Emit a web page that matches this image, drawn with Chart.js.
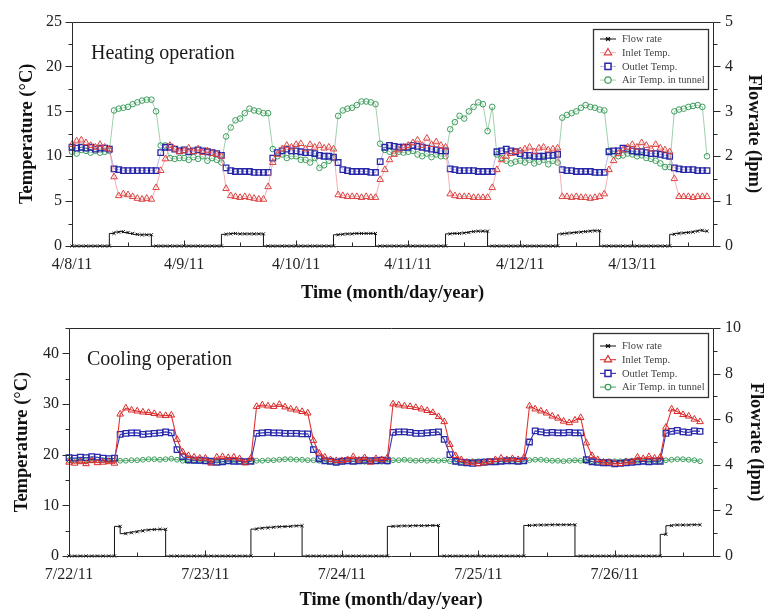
<!DOCTYPE html>
<html><head><meta charset="utf-8">
<script src="https://cdn.jsdelivr.net/npm/chart.js@4/dist/chart.umd.min.js"></script>
<style>
html,body{margin:0;padding:0;background:#fff;}
#wrap{position:relative;width:764px;height:612px;overflow:hidden;}
canvas{position:absolute;left:0;}
#c1{top:0;} #c2{top:306px;}
</style></head><body>
<div id="wrap"><canvas id="c1" width="764" height="306" style="width:764px;height:306px"></canvas><canvas id="c2" width="764" height="306" style="width:764px;height:306px"></canvas></div>
<script>
// ---------- tick labels / names ----------
const heatDates = ['4/8/11','4/9/11','4/10/11','4/11/11','4/12/11','4/13/11'];
const coolDates = ['7/22/11','7/23/11','7/24/11','7/25/11','7/26/11'];
const seriesNames = ['Flow rate','Inlet Temp.','Outlet Temp.','Air Temp. in tunnel'];
const SAMPLES_PER_DAY = 24; // hourly readings

// ---------- Heating operation (hourly from 4/8/11 0:00) ----------
const heatFlow = [ // lpm
  0,0,0,0,0,0,0,0,0, 0.28,0.31,0.32,0.30,0.28,0.26,0.25,0.25,0.25, 0,0,0,0,0,0,
  0,0,0,0,0,0,0,0,0, 0.26,0.27,0.28,0.27,0.27,0.27,0.27,0.27,0.27, 0,0,0,0,0,0,
  0,0,0,0,0,0,0,0,0, 0.25,0.26,0.27,0.27,0.28,0.28,0.28,0.28,0.28, 0,0,0,0,0,0,
  0,0,0,0,0,0,0,0,0, 0.27,0.28,0.28,0.29,0.30,0.32,0.33,0.33,0.33, 0,0,0,0,0,0,
  0,0,0,0,0,0,0,0,0, 0.27,0.28,0.29,0.30,0.31,0.32,0.33,0.34,0.34, 0,0,0,0,0,0,
  0,0,0,0,0,0,0,0,0, 0.26,0.28,0.29,0.30,0.31,0.33,0.35,0.33
];
const heatInlet = [ // °C
  11.3,11.7,11.8,11.5,11.2,11.0,11.3,11.0,10.8, 7.7,5.6,5.8,5.7,5.5,5.3,5.2,5.3,5.2,6.5, 8.4,9.7,11.2,10.8,10.5,
  10.6,10.9,10.5,10.8,10.4,10.6,10.3,10.2,10.0, 6.4,5.6,5.5,5.4,5.5,5.4,5.3,5.2,5.2,6.6, 9.3,10.2,10.8,11.2,11.0,
  11.3,11.4,10.8,11.3,11.0,11.2,10.9,11.0,10.8, 5.7,5.6,5.5,5.5,5.5,5.4,5.5,5.4,5.4,7.4, 8.5,9.6,10.2,10.7,11.0,
  11.2,11.5,11.8,11.2,12.0,11.3,11.6,11.2,11.0, 5.8,5.6,5.5,5.5,5.5,5.4,5.4,5.4,5.4,6.5, 8.5,9.6,10.0,10.3,10.5,
  10.6,10.8,11.0,10.5,10.9,11.0,10.7,10.8,10.9, 5.5,5.5,5.4,5.5,5.4,5.4,5.3,5.4,5.5,5.8, 8.5,9.5,10.3,10.7,11.0,
  11.3,11.0,11.5,11.2,10.8,11.3,10.9,10.7,10.5, 7.5,5.5,5.5,5.5,5.4,5.5,5.5,5.5
];
const heatOutlet = [
  11.0,10.9,11.0,10.9,11.0,10.8,10.9,10.9,10.8, 8.6,8.5,8.4,8.4,8.4,8.4,8.4,8.4,8.4,8.4, 10.4,11.0,11.0,10.8,10.6,
  10.7,10.5,10.6,10.7,10.6,10.5,10.4,10.3,10.1, 8.7,8.4,8.3,8.3,8.3,8.3,8.2,8.2,8.2,8.2, 9.8,10.4,10.6,10.8,10.6,
  10.6,10.5,10.4,10.4,10.3,10.1,10.0,10.0,9.9, 9.3,8.5,8.4,8.3,8.3,8.3,8.3,8.2,8.2,9.4, 11.0,11.2,11.1,11.0,11.0,
  11.0,11.2,11.1,11.0,10.9,10.8,10.7,10.6,10.6, 8.6,8.5,8.4,8.4,8.4,8.4,8.3,8.3,8.3,8.3, 10.5,10.6,10.8,10.6,10.5,
  10.3,10.1,10.1,10.0,10.0,10.0,10.1,10.1,10.2, 8.5,8.4,8.4,8.3,8.3,8.3,8.3,8.2,8.2,8.2, 10.5,10.6,10.6,10.9,10.8,
  10.6,10.5,10.5,10.4,10.3,10.3,10.2,10.1,10.0, 8.7,8.6,8.5,8.5,8.5,8.4,8.4,8.4
];
const heatAir = [
  10.5,10.3,10.7,10.6,10.4,10.6,10.4,10.5,10.6, 15.1,15.3,15.4,15.5,15.8,16.0,16.2,16.3,16.3,15.0, 11.2,11.2,9.8,9.7,9.8,
  9.8,9.6,9.9,9.7,10.0,9.5,9.8,9.6,9.3, 12.2,13.2,14.0,14.2,14.8,15.3,15.1,15.0,14.8,14.8, 10.8,10.0,10.2,9.8,10.0,
  10.0,9.6,9.6,9.3,9.8,8.7,9.0,9.5,9.8, 14.5,15.1,15.3,15.4,15.7,16.1,16.1,16.0,15.8,11.4, 10.7,10.5,10.3,10.5,10.4,
  10.5,10.6,10.2,10.0,10.3,9.9,10.2,10.0,10.0, 13.0,13.8,14.5,14.2,15.0,15.5,16.0,15.8,12.8,15.5, 10.2,9.8,9.5,9.2,9.4,
  9.5,9.3,9.6,9.2,9.4,9.6,9.1,9.5,9.3, 14.3,14.6,14.8,15.0,15.4,15.7,15.5,15.4,15.2,15.1, 10.6,10.2,10.0,10.1,10.3,
  10.2,10.0,10.1,9.8,9.7,9.5,9.2,8.8,8.8, 15.0,15.2,15.3,15.5,15.6,15.7,15.5,10.0
];

// ---------- Cooling operation (hourly from 7/22/11 0:00) ----------
const coolFlow = [ // lpm
  0,0,0,0,0,0,0,0,0, 1.30,0.98,1.02,1.06,1.10,1.14,1.16,1.17,1.17, 0,0,0,0,0,0,
  0,0,0,0,0,0,0,0,0, 1.18,1.22,1.24,1.26,1.28,1.29,1.30,1.32,1.33, 0,0,0,0,0,0,
  0,0,0,0,0,0,0,0,0, 1.30,1.31,1.32,1.32,1.33,1.33,1.33,1.34,1.34, 0,0,0,0,0,0,
  0,0,0,0,0,0,0,0,0, 1.34,1.35,1.36,1.36,1.37,1.37,1.37,1.37,1.37, 0,0,0,0,0,0,
  0,0,0,0,0,0,0,0,0, 0.95,1.33,1.36,1.36,1.36,1.37,1.37
];
const coolInlet = [ // °C
  18.5,18.3,18.6,18.2,18.8,18.4,18.5,18.6,18.3, 28.0,29.2,28.8,28.6,28.4,28.3,28.1,27.8,27.7,27.8, 23.0,20.5,19.8,19.5,19.3,
  19.3,18.3,19.5,19.6,19.4,19.5,19.2,18.4,19.3, 29.5,29.8,29.6,29.5,29.9,29.4,29.0,28.8,28.5,28.2, 22.8,20.3,19.5,19.0,18.8,
  18.8,19.0,19.6,18.9,19.4,18.5,19.2,19.0,19.4, 30.0,29.8,29.6,29.5,29.3,29.0,28.7,28.3,27.5,26.5, 22.0,19.8,19.0,18.5,18.4,
  18.2,18.4,18.6,19.0,19.3,19.0,19.2,19.0,19.4, 29.6,29.0,28.6,28.2,27.6,27.2,26.6,26.3,26.8,27.3, 22.3,19.8,19.0,18.5,18.4,
  18.3,18.2,18.5,18.6,19.5,19.2,19.6,19.3,19.5, 25.4,29.0,28.5,27.9,27.6,27.0,26.5
];
const coolOutlet = [
  19.4,19.3,19.5,19.4,19.6,19.5,19.3,19.2,19.3, 24.0,24.2,24.3,24.3,24.0,24.1,24.2,24.3,24.5,24.3, 21.0,19.6,19.0,18.9,18.9,
  18.8,18.7,18.5,18.6,18.8,18.7,18.7,18.6,18.7, 24.2,24.3,24.4,24.3,24.3,24.2,24.2,24.2,24.1,24.1, 21.0,19.2,18.8,18.7,18.5,
  18.7,18.8,18.7,18.8,18.9,18.8,18.8,18.9,18.8, 24.4,24.5,24.5,24.4,24.2,24.2,24.3,24.4,24.5,23.0, 20.0,18.7,18.5,18.4,18.3,
  18.4,18.5,18.6,18.6,18.7,18.8,18.8,18.7,18.8, 22.5,24.7,24.5,24.3,24.4,24.3,24.3,24.4,24.3,24.3, 19.0,18.6,18.5,18.4,18.4,
  18.2,18.3,18.4,18.5,18.6,18.7,18.6,18.7,18.7, 24.2,24.6,24.8,24.5,24.4,24.7,24.6
];
const coolAir = [
  18.9,18.9,18.8,18.9,18.9,19.0,18.9,18.9,18.8, 18.8,18.8,18.9,18.9,19.0,19.1,19.1,19.0,19.1,19.2, 19.0,18.8,18.7,18.8,18.7,
  18.7,18.7,18.8,18.7,18.7,18.8,18.7,18.6,18.7, 18.8,18.8,18.9,18.9,19.0,19.1,19.1,19.0,19.0,18.9, 18.9,18.8,18.7,18.6,18.6,
  18.6,18.7,18.7,18.7,18.6,18.7,18.7,18.6,18.6, 18.9,18.9,19.0,18.9,18.8,18.9,18.8,18.9,18.8,18.9, 18.7,18.6,18.6,18.6,18.7,
  18.7,18.7,18.6,18.6,18.7,18.7,18.7,18.6,18.7, 18.9,19.0,19.0,18.9,18.8,18.8,18.7,18.8,18.9,18.8, 18.7,18.7,18.6,18.6,18.7,
  18.7,18.7,18.8,18.8,18.8,18.7,18.8,18.8,18.8, 18.9,19.0,19.1,19.1,19.0,18.9,18.7
];

// ---------- rendering ----------
const SERIF = '"Liberation Serif","Times New Roman","DejaVu Serif",serif';
Chart.defaults.font.family = SERIF;
Chart.defaults.color = '#222';

const toPts = arr => arr.map((v, i) => ({ x: i / SAMPLES_PER_DAY, y: v }));

function mark(ctx, style, r, x, y, color, lw) {
  ctx.save();
  ctx.strokeStyle = color; ctx.lineWidth = lw; ctx.fillStyle = '#fff';
  ctx.beginPath();
  if (style === 'triangle') {
    ctx.moveTo(x, y - r); ctx.lineTo(x + r * 0.866, y + r * 0.5); ctx.lineTo(x - r * 0.866, y + r * 0.5); ctx.closePath();
    ctx.fill(); ctx.stroke();
  } else if (style === 'rect') {
    const s = r * Math.SQRT1_2; ctx.rect(x - s, y - s, 2 * s, 2 * s); ctx.fill(); ctx.stroke();
  } else if (style === 'circle') {
    ctx.arc(x, y, r, 0, Math.PI * 2); ctx.fill(); ctx.stroke();
  } else {
    const s = r * Math.SQRT1_2;
    ctx.moveTo(x - s, y - s); ctx.lineTo(x + s, y + s); ctx.moveTo(x + s, y - s); ctx.lineTo(x - s, y + s);
    ctx.moveTo(x - r, y); ctx.lineTo(x + r, y); ctx.stroke();
  }
  ctx.restore();
}

const decor = {
  id: 'decor',
  afterDatasetsDraw(chart, args, o) {
    const { ctx, chartArea: a, scales: { x, y, y1 } } = chart;
    ctx.save();
    ctx.strokeStyle = '#2a2a2a'; ctx.lineWidth = 1;
    const L0 = Math.round(a.left) + 0.5, T0 = Math.round(a.top) + 0.5, R0 = Math.round(a.right) + 0.5, B0 = Math.round(a.bottom) + 0.5;
    ctx.beginPath(); ctx.rect(L0, T0, R0 - L0, B0 - T0); ctx.stroke();
    ctx.beginPath();
    const eps = 1e-6;
    for (let v = 0; v <= x.max + eps; v += o.xMinor) {
      const px = Math.round(x.getPixelForValue(v)) + 0.5;
      const major = Math.abs(v - Math.round(v)) < eps;
      ctx.moveTo(px, B0); ctx.lineTo(px, B0 - (major ? 6 : 4));
    }
    for (let v = 0; v <= y.max + eps; v += o.yMinor) {
      const py = Math.round(y.getPixelForValue(v)) + 0.5;
      const major = Math.abs(v / o.yMajor - Math.round(v / o.yMajor)) < eps;
      ctx.moveTo(L0, py); ctx.lineTo(L0 - (major ? 7 : 4), py);
    }
    for (let v = 0; v <= y1.max + eps; v += o.y1Minor) {
      const py = Math.round(y1.getPixelForValue(v)) + 0.5;
      const major = Math.abs(v / o.y1Major - Math.round(v / o.y1Major)) < eps;
      ctx.moveTo(R0, py); ctx.lineTo(R0 + (major ? 7 : 4), py);
    }
    ctx.stroke();
    // heading
    ctx.fillStyle = '#1a1a1a'; ctx.font = '20px ' + SERIF; ctx.textAlign = 'left'; ctx.textBaseline = 'alphabetic';
    ctx.fillText(o.heading, a.left + o.headDx, a.top + o.headDy);
    // legend
    const G = o.legend;
    const bx = Math.round(a.right - G.right - G.w), by = Math.round(a.top + G.top);
    ctx.fillStyle = '#fff'; ctx.fillRect(bx, by, G.w, G.h);
    ctx.strokeStyle = '#333'; ctx.lineWidth = 1.3; ctx.strokeRect(bx + 0.5, by + 0.5, G.w, G.h);
    chart.data.datasets.forEach((ds, i) => {
      const cy = by + G.first + i * G.gap, cx = bx + G.markX;
      ctx.strokeStyle = ds.borderColor; ctx.lineWidth = Math.max(ds.borderWidth, 0.8);
      ctx.beginPath(); ctx.moveTo(cx - 8, cy); ctx.lineTo(cx + 8, cy); ctx.stroke();
      mark(ctx, ds.pointStyle, ds.pointRadius + 0.4, cx, cy, ds.pointBorderColor, ds.pointBorderWidth + 0.2);
      ctx.fillStyle = '#444'; ctx.font = '10.5px ' + SERIF; ctx.textBaseline = 'middle'; ctx.textAlign = 'left';
      ctx.fillText(ds.label, cx + 14, cy + 0.5);
    });
    ctx.restore();
  }
};

function makeChart(id, c) {
  const ds = (label, data, style, r, color, line, bw, pbw, axis, stepped) => ({
    label, data: toPts(data), yAxisID: axis, pointStyle: style, pointRadius: r,
    pointBorderColor: color, pointBackgroundColor: 'rgba(255,255,255,0)', pointBorderWidth: pbw,
    borderColor: line, borderWidth: bw, tension: 0, stepped: stepped || false, clip: false, fill: false
  });
  const titleFont = { size: 18.5, weight: 'bold' };
  return new Chart(document.getElementById(id), {
    type: 'line',
    data: { datasets: [
      ds(seriesNames[0], c.flow, 'crossRot', 2.2, '#111', '#111', 1, 1, 'y1', 'after'),
      ds(seriesNames[1], c.inlet, 'triangle', 3.8, c.red, c.redLine, c.bw, 1, 'y'),
      ds(seriesNames[2], c.outlet, 'rect', 3.9, c.blue, c.blueLine, c.bw, 1.3, 'y'),
      ds(seriesNames[3], c.air, 'circle', c.airR, c.green, c.greenLine, c.bw, 1, 'y')
    ] },
    options: {
      responsive: false, animation: false, devicePixelRatio: 1,
      layout: { padding: { top: c.top, left: 0, right: 0, bottom: 0 } },
      plugins: { legend: { display: false }, tooltip: { enabled: false }, decor: c.decor },
      scales: {
        x: {
          type: 'linear', min: 0, max: c.xMax, afterFit: s => { s.height = c.xH; },
          ticks: { stepSize: 1, includeBounds: false, autoSkip: false, maxRotation: 0, padding: 9, font: { size: 16 }, color: '#222',
            callback: v => (Number.isInteger(v) && c.dates[v]) ? c.dates[v] : '' },
          grid: { display: false, drawTicks: false }, border: { display: false },
          title: { display: true, text: 'Time (month/day/year)', font: titleFont, color: '#111', padding: { top: 0, bottom: c.xTitlePad } }
        },
        y: {
          position: 'left', min: 0, max: c.yMax, afterFit: s => { s.width = c.leftW; },
          ticks: { stepSize: c.yStep, includeBounds: false, padding: 10, font: { size: 16 }, color: '#222' },
          grid: { display: false, drawTicks: false }, border: { display: false },
          title: { display: true, text: 'Temperature (°C)', font: titleFont, color: '#111', padding: { top: c.yTitlePad, bottom: 0 } }
        },
        y1: {
          position: 'right', min: 0, max: c.y1Max, afterFit: s => { s.width = c.rightW; },
          ticks: { stepSize: c.y1Step, includeBounds: false, padding: 12, font: { size: 16 }, color: '#222' },
          grid: { display: false, drawTicks: false }, border: { display: false },
          title: { display: true, text: 'Flowrate (lpm)', font: titleFont, color: '#111', padding: { top: c.y1TitlePad, bottom: 0 } }
        }
      }
    },
    plugins: [decor]
  });
}

makeChart('c1', {
  flow: heatFlow, inlet: heatInlet, outlet: heatOutlet, air: heatAir, dates: heatDates,
  xMax: 5.72, yMax: 25, yStep: 5, y1Max: 5, y1Step: 1,
  top: 18, xH: 60, leftW: 72, rightW: 51, xTitlePad: 2, yTitlePad: 16, y1TitlePad: -1,
  red: '#dc4444', redLine: 'rgba(236,120,120,0.75)', blue: '#2828a6', blueLine: 'rgba(90,90,200,0.55)',
  green: '#3c9c5c', greenLine: 'rgba(95,175,115,0.75)', bw: 0.8, airR: 2.8,
  decor: { heading: 'Heating operation', headDx: 19, headDy: 37, xMinor: 0.5, yMajor: 5, yMinor: 2.5, y1Major: 1, y1Minor: 0.5,
    legend: { right: 5, w: 115, top: 7, h: 60, first: 10, gap: 13.7, markX: 15 } }
});
makeChart('c2', {
  flow: coolFlow, inlet: coolInlet, outlet: coolOutlet, air: coolAir, dates: coolDates,
  xMax: 4.72, yMax: 45, yStep: 10, y1Max: 10, y1Step: 2,
  top: 22, xH: 56, leftW: 69, rightW: 51, xTitlePad: 1, yTitlePad: 11, y1TitlePad: -3,
  red: '#d82a2a', redLine: '#e03434', blue: '#2828a8', blueLine: '#3434b4',
  green: '#3c9c5c', greenLine: '#55ad6d', bw: 1.1, airR: 2.4,
  decor: { heading: 'Cooling operation', headDx: 18, headDy: 37, xMinor: 0.5, yMajor: 10, yMinor: 5, y1Major: 2, y1Minor: 1,
    legend: { right: 5, w: 115, top: 5, h: 64, first: 13, gap: 13.7, markX: 15 } }
});
</script>
</body></html>
